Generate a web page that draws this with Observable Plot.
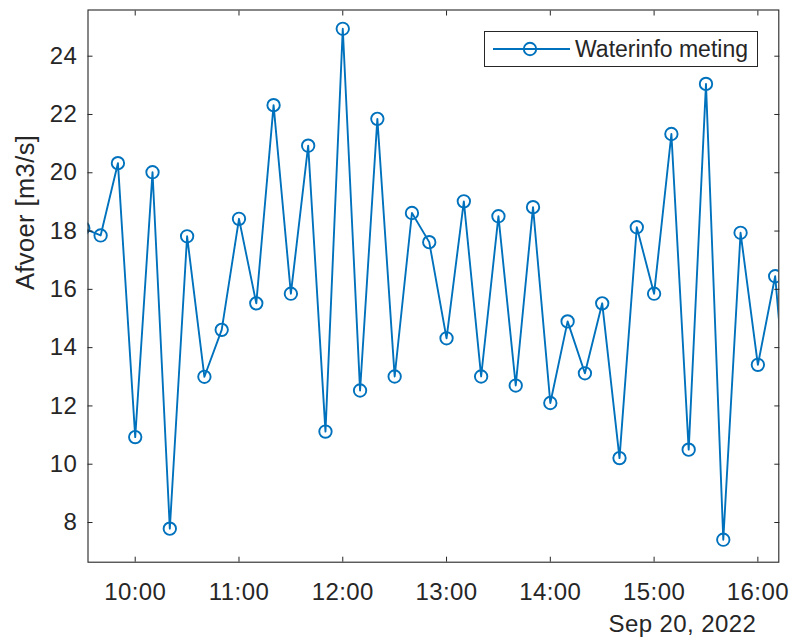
<!DOCTYPE html>
<html>
<head>
<meta charset="utf-8">
<script src="https://cdn.jsdelivr.net/npm/d3@7"></script>
<script src="https://cdn.jsdelivr.net/npm/@observablehq/plot@0.6"></script>
<style>
  html, body { margin: 0; padding: 0; background: #fff; }
  #wrap { position: relative; width: 789px; height: 639px; font-family: "Liberation Sans", Arial, Helvetica, sans-serif; color: #262626; }
  #chart svg text { letter-spacing: 0.4px; }
  #legend { position: absolute; left: 484px; top: 31px; width: 274px; height: 36px; border: 1px solid #262626; background: #fff; box-sizing: border-box; }
  #legend svg { position: absolute; left: 0; top: 0; }
  #legend span { position: absolute; left: 90px; top: 3px; font-size: 23px; line-height: 28px; color: #262626; white-space: nowrap; }
</style>
</head>
<body>
<div id="wrap"><div id="chart"></div>
  <div id="legend">
    <svg width="90" height="35"><line x1="8" y1="17" x2="85" y2="17" stroke="#0072BD" stroke-width="1.9"/><circle cx="45" cy="17" r="6.2" fill="none" stroke="#0072BD" stroke-width="1.9"/></svg>
    <span id="legendText"></span>
  </div>
</div>
<script>
// ---- data ----
const day = [2022, 8, 20]; // 20 Sep 2022
const times = ["09:30","09:40","09:50","10:00","10:10","10:20","10:30","10:40","10:50",
  "11:00","11:10","11:20","11:30","11:40","11:50","12:00","12:10","12:20","12:30","12:40","12:50",
  "13:00","13:10","13:20","13:30","13:40","13:50","14:00","14:10","14:20","14:30","14:40","14:50",
  "15:00","15:10","15:20","15:30","15:40","15:50","16:00","16:10","16:20"];
const afvoer = [18.1, 17.85, 20.33, 10.93, 20.02, 7.79, 17.82, 13.0, 14.61,
  18.42, 15.52, 22.32, 15.85, 20.93, 11.12, 24.94, 12.53, 21.85, 13.01, 18.62, 17.62,
  14.32, 19.02, 13.01, 18.51, 12.7, 18.82, 12.1, 14.9, 13.12, 15.52, 10.21, 18.13,
  15.85, 21.33, 10.5, 23.05, 7.41, 17.94, 13.41, 16.45, 9.6];
const xTickTimes = ["10:00","11:00","12:00","13:00","14:00","15:00","16:00"];
const yTicks = [8, 10, 12, 14, 16, 18, 20, 22, 24];
const xDomainTimes = ["09:32:42", "16:12:06"];
const yDomain = [6.638, 25.585];
const seriesName = "Waterinfo meting";
const yLabel = "Afvoer [m3/s]";
const dateLabel = "Sep 20, 2022";

// ---- build ----
const toDate = s => { const [h, m, sec] = s.split(":").map(Number); return new Date(Date.UTC(day[0], day[1], day[2], h, m, sec || 0)); };
const data = times.map((t, i) => ({t: toDate(t), v: afvoer[i]}));
const xTicks = xTickTimes.map(toDate);
const fmt = d3.utcFormat("%H:%M");
const ink = "#262626";
const blue = "#0072BD";
const font = 24;

document.getElementById("legendText").textContent = seriesName;

const chart = Plot.plot({
  width: 789,
  height: 639,
  marginLeft: 87.5,
  marginRight: 10.7,
  marginTop: 9.5,
  marginBottom: 77.3,
  style: {fontFamily: '"Liberation Sans", Arial, Helvetica, sans-serif', color: ink, background: "#fff", overflow: "visible"},
  x: {type: "utc", domain: xDomainTimes.map(toDate)},
  y: {domain: yDomain},
  marks: [
    Plot.line(data, {x: "t", y: "v", stroke: blue, strokeWidth: 1.9, clip: true}),
    Plot.dot(data, {x: "t", y: "v", r: 6.2, stroke: blue, strokeWidth: 1.9, fill: "none", clip: true}),
    Plot.frame({stroke: ink, strokeWidth: 1.1}),
    Plot.axisX({anchor: "bottom", ticks: xTicks, tickSize: -5, tickPadding: 25.5, tickFormat: fmt, fontSize: font, label: null, stroke: ink, fill: ink}),
    Plot.axisX({anchor: "top", ticks: xTicks, tickSize: -5, tickFormat: () => "", label: null, stroke: ink}),
    Plot.axisY({anchor: "left", ticks: yTicks, tickSize: -5, tickPadding: 15.8, tickFormat: d => String(d), fontSize: font, label: null, stroke: ink, fill: ink}),
    Plot.axisY({anchor: "right", ticks: yTicks, tickSize: -5, tickFormat: () => "", label: null, stroke: ink}),
    Plot.text([dateLabel], {frameAnchor: "bottom-right", text: d => d, textAnchor: "end", lineAnchor: "top", dx: -22.6, dy: 53, fontSize: font, fill: ink}),
    Plot.text([yLabel], {frameAnchor: "left", text: d => d, rotate: -90, dx: -62.5, dy: 4, fontSize: 25.5, fill: ink})
  ]
});
document.getElementById("chart").appendChild(chart);
</script>
</body>
</html>
